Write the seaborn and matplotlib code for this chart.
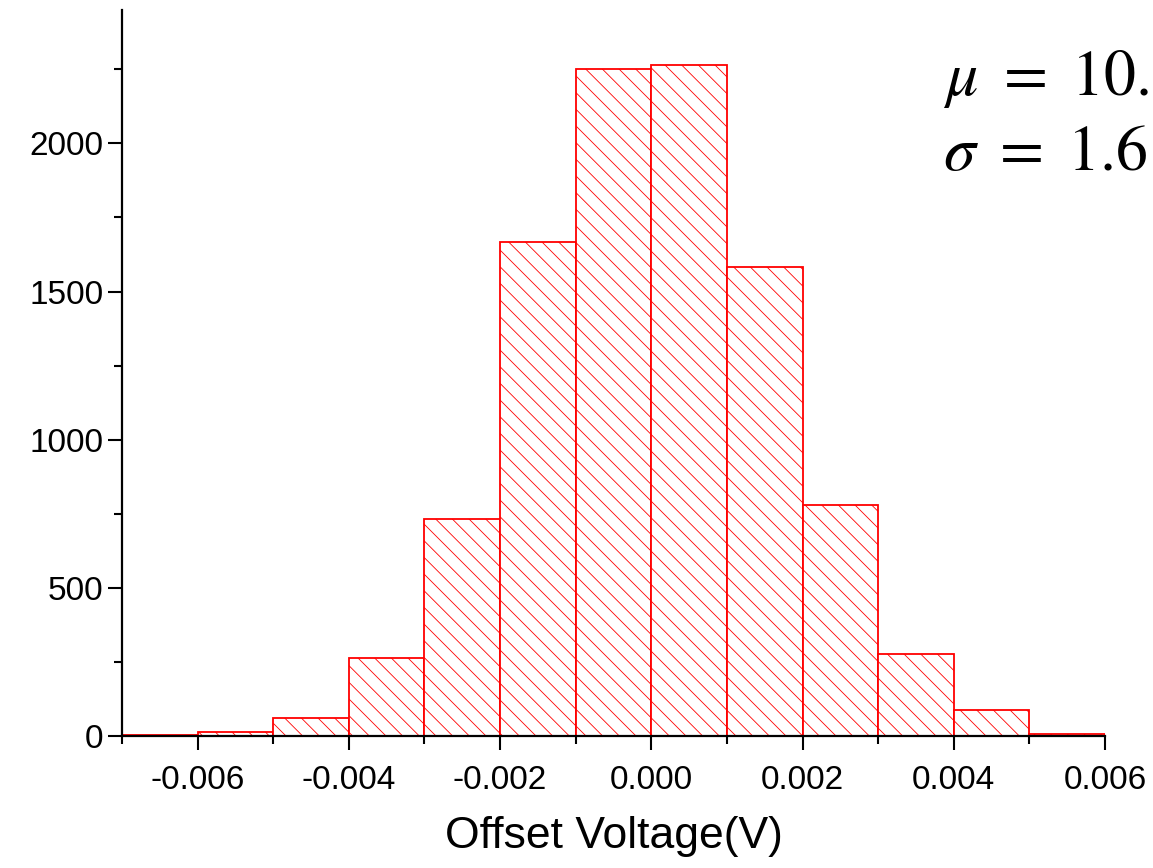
import numpy as np
import pandas as pd
import matplotlib
matplotlib.use("Agg")
import matplotlib.pyplot as plt
from matplotlib.ticker import MultipleLocator
import seaborn as sns

# histogram bins (left edges, V) and counts
bin_left = [-0.007, -0.006, -0.005, -0.004, -0.003, -0.002, -0.001,
            0.000, 0.001, 0.002, 0.003, 0.004, 0.005]
counts = [3, 15, 60, 262, 734, 1668, 2250, 2266, 1583, 778, 276, 89, 6]
bin_width = 0.001

sns.set_style("ticks", {"text.color": "black", "axes.labelcolor": "black",
                        "xtick.color": "black", "ytick.color": "black",
                        "axes.edgecolor": "black"})
plt.rcParams["font.family"] = ["Liberation Sans", "DejaVu Sans"]
plt.rcParams["mathtext.fontset"] = "stix"
plt.rcParams["hatch.linewidth"] = 0.6

df = pd.DataFrame({"voltage": np.array(bin_left) + bin_width / 2,
                   "count": counts})
edges = list(bin_left) + [bin_left[-1] + bin_width]

fig = plt.figure(figsize=(11.53, 8.68), dpi=100)
ax = fig.add_axes([0.1058, 0.152, 0.8526, 0.8365])

sns.histplot(data=df, x="voltage", weights="count", bins=edges, ax=ax,
             facecolor="white", edgecolor="red", hatch="\\\\",
             linewidth=1.3)

ax.set_xlim(-0.007, 0.006)
ax.set_ylim(0, 2450)
ax.xaxis.set_major_locator(MultipleLocator(0.002))
ax.set_xticks(np.arange(-0.007, 0.006, 0.002), minor=True)
ax.yaxis.set_major_locator(MultipleLocator(500))
ax.yaxis.set_minor_locator(MultipleLocator(250))
ax.xaxis.set_major_formatter(plt.FuncFormatter(lambda v, p: f"{v:.3f}".replace("-0.000", "0.000")))

ax.tick_params(which="major", length=10, width=1.5, labelsize=24, direction="out")
ax.tick_params(axis="x", which="major", pad=11)
ax.tick_params(which="minor", length=6, width=1.5, direction="out")
ax.set_ylabel("")
ax.set_xlabel("Offset Voltage(V)", fontsize=32, labelpad=14)
for s in ["left", "bottom"]:
    ax.spines[s].set_linewidth(1.6)
sns.despine(ax=ax)

fig.text(0.818, 1 - 95 / 868, r"$\mu\ =\ 10.$", fontsize=46, va="baseline")
fig.text(0.818, 1 - 170 / 868, r"$\sigma\ =\ 1.6$", fontsize=46, va="baseline")

fig.savefig("out.png", dpi=100)
